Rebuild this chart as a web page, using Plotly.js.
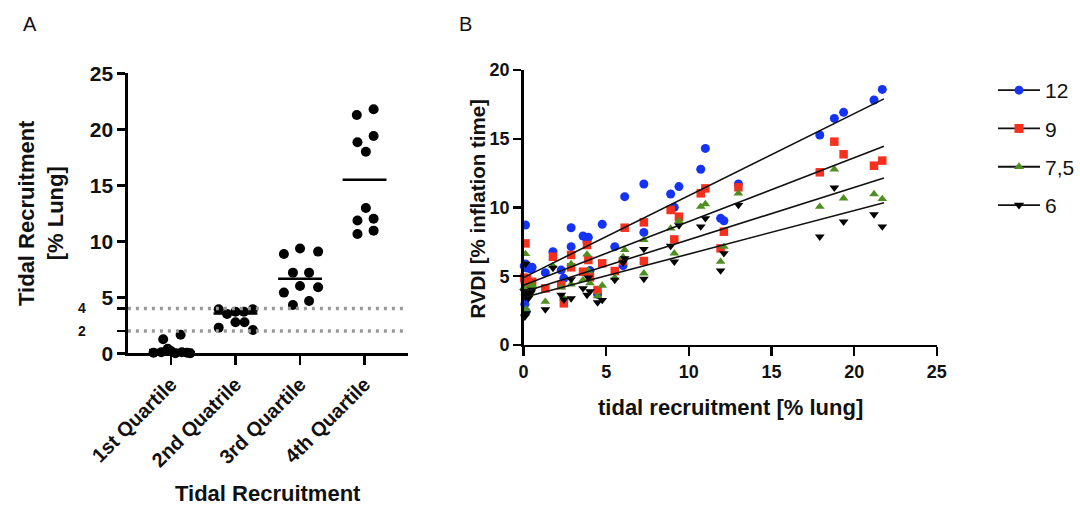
<!DOCTYPE html>
<html>
<head>
<meta charset="utf-8">
<script src="https://cdn.plot.ly/plotly-3.0.1.min.js"></script>
<style>html,body{margin:0;padding:0;background:#fff;}#chart{width:1080px;height:506px;}</style>
</head>
<body>
<div id="chart"></div>
<script>
// ---------- Panel A data ----------
const quartileLabels = ['1st Quartile', '2nd Quatrile', '3rd Quartile', '4th Quartile'];
const q1Values = [0.05, 0.1, 1.25, 0.4, 0.2, 0.0, 1.65, 0.1, 0.05, 0.0];
const q2Values = [3.93, 3.51, 3.72, 3.72, 3.93, 2.29, 2.77, 2.77, 2.08];
const q3Values = [8.87, 9.35, 9.08, 7.2, 7.2, 6.01, 5.89, 5.42, 4.32, 4.67];
const q4Values = [21.28, 21.79, 18.84, 19.4, 18.0, 12.98, 11.85, 12.02, 10.65, 10.95];
const quartileMeans = [0.3, 3.55, 6.65, 15.5];
const thresholdValues = [2, 4];

// horizontal scatter offsets of the dots within each category (layout only)
const q1Offsets = [-0.27, -0.15, -0.12, -0.05, 0.0, 0.07, 0.15, 0.17, 0.25, 0.3];
const q2Offsets = [-0.26, -0.13, 0.0, 0.13, 0.27, -0.26, 0.0, 0.14, 0.27];
const q3Offsets = [-0.25, 0.0, 0.28, -0.11, 0.14, 0.0, 0.28, -0.25, -0.11, 0.14];
const q4Offsets = [-0.12, 0.14, -0.11, 0.14, 0.02, 0.02, -0.11, 0.14, -0.11, 0.14];

// ---------- Panel B data ----------
const tidalRecruitment = [
  0.04, 0.08, 0.12, 0.12, 0.16, 0.2, 0.3, 0.32, 0.46, 0.52,
  1.32, 1.78, 2.28, 2.44, 2.88, 2.88, 3.6, 3.84, 3.92, 4.02,
  4.48, 4.76, 5.52, 6.02, 6.12, 7.28, 7.28, 8.9, 9.12, 9.4,
  10.72, 11.0, 11.92, 12.12, 13.0, 17.92, 18.8, 19.36, 21.2, 21.7
];
const rvdi12 = [
  5.75, 2.96, 8.73, 5.9, 2.42, 5.6, 5.7, 4.17, 5.5, 5.65,
  5.26, 6.79, 5.45, 4.85, 8.53, 7.15, 7.93, 7.52, 7.83, 5.41,
  3.68, 8.78, 7.15, 5.77, 10.79, 11.71, 8.19, 10.98, 10.01, 11.52,
  12.78, 14.3, 9.21, 9.04, 11.71, 15.27, 16.48, 16.92, 17.82, 18.59
];
const rvdi9 = [
  4.9, 4.73, 7.39, 4.0, 4.5, 4.8, 4.3, 4.1, 4.53, 4.6,
  4.12, 6.42, 4.36, 3.03, 6.55, 5.65, 5.33, 7.27, 6.18, 4.92,
  4.0, 5.94, 5.38, 6.11, 8.53, 8.92, 6.11, 9.82, 7.68, 9.33,
  11.03, 11.39, 7.03, 8.24, 11.47, 12.56, 14.79, 13.87, 13.04, 13.41
];
const rvdi75 = [
  4.2, 2.25, 6.62, 3.8, 2.6, 3.9, 3.76, 4.0, 4.3, 4.4,
  3.15, 5.75, 4.19, 3.4, 5.9, 4.41, 4.73, 6.59, 5.4, 4.5,
  3.56, 4.32, 4.9, 6.4, 6.91, 7.64, 5.21, 8.48, 6.67, 9.02,
  10.06, 10.25, 6.06, 7.15, 11.03, 10.06, 12.78, 10.67, 10.98, 10.62
];
const rvdi6 = [
  3.9, 2.06, 5.9, 3.5, 2.3, 3.6, 3.4, 3.7, 3.8, 4.0,
  2.59, 5.6, 3.64, 3.3, 4.78, 3.39, 4.12, 3.64, 4.9, 3.9,
  3.1, 3.27, 4.73, 6.0, 6.3, 6.98, 4.8, 7.2, 6.06, 8.7,
  8.61, 9.21, 5.41, 6.67, 10.18, 7.88, 11.44, 8.97, 9.5, 8.61
];
const seriesNames = ['12', '9', '7,5', '6'];
// regression lines (start and end values)
const fitX = [0, 21.8];
const fit12 = [4.9, 17.9];
const fit9 = [4.35, 14.45];
const fit75 = [3.85, 12.15];
const fit6 = [3.45, 10.35];

// ---------- styling ----------
const FONT = 'Liberation Sans, Arial, Helvetica, sans-serif';
const INK = '#111111';
const seriesColors = ['#1533f5', '#f5301e', '#4f8f22', '#000000'];
const seriesSymbols = ['circle', 'square', 'triangle-up', 'triangle-down'];

const traces = [];

// Panel A dots
const groups = [q1Values, q2Values, q3Values, q4Values];
const offsets = [q1Offsets, q2Offsets, q3Offsets, q4Offsets];
const ax = [], ay = [];
groups.forEach((vals, gi) => {
  vals.forEach((v, i) => { ax.push(gi + 1 + offsets[gi][i]); ay.push(v); });
});
traces.push({
  x: ax, y: ay, xaxis: 'x', yaxis: 'y', type: 'scatter', mode: 'markers',
  marker: {color: '#000', size: 10, line: {width: 0}}, cliponaxis: false,
  showlegend: false, hoverinfo: 'skip'
});
// threshold dotted lines
thresholdValues.forEach(t => {
  traces.push({
    x: [0.333, 4.667], y: [t, t], xaxis: 'x', yaxis: 'y', mode: 'lines',
    line: {color: '#9a9a9a', width: 3.5, dash: '3px,5px'},
    showlegend: false, hoverinfo: 'skip', cliponaxis: false
  });
});
// mean lines
const mx = [], my = [];
quartileMeans.forEach((m, i) => { mx.push(i + 1 - 0.34, i + 1 + 0.34, null); my.push(m, m, null); });
traces.push({
  x: mx, y: my, xaxis: 'x', yaxis: 'y', mode: 'lines',
  line: {color: '#000', width: 2.5}, showlegend: false, hoverinfo: 'skip', cliponaxis: false
});

// Panel B points
const bSeries = [rvdi12, rvdi9, rvdi75, rvdi6];
const fits = [fit12, fit9, fit75, fit6];
bSeries.forEach((ys, i) => {
  traces.push({
    x: tidalRecruitment, y: ys, xaxis: 'x2', yaxis: 'y2', mode: 'markers',
    marker: {color: seriesColors[i], symbol: seriesSymbols[i], size: i === 0 ? 9 : 8.5, line: {width: 0}},
    showlegend: false, cliponaxis: false, name: seriesNames[i]
  });
});
fits.forEach((f, i) => {
  traces.push({
    x: fitX, y: f, xaxis: 'x2', yaxis: 'y2', mode: 'lines',
    line: {color: '#111', width: 1.6}, showlegend: false, hoverinfo: 'skip'
  });
});
// legend entries
seriesNames.forEach((n, i) => {
  traces.push({
    x: [null], y: [null], xaxis: 'x2', yaxis: 'y2', mode: 'lines+markers', name: n,
    legendgroup: 'g' + i,
    line: {color: '#111', width: 1.8},
    marker: {color: seriesColors[i], symbol: seriesSymbols[i], size: 9},
    showlegend: true
  });
});

const axisCommon = {
  showgrid: false, zeroline: false, showline: true, linecolor: '#000',
  ticks: 'outside', tickcolor: '#000', fixedrange: true
};

const layout = {
  width: 1080, height: 506,
  margin: {l: 0, r: 0, t: 0, b: 0},
  paper_bgcolor: '#fff', plot_bgcolor: 'rgba(0,0,0,0)',
  font: {family: FONT, color: INK},
  showlegend: true,
  legend: {
    x: 0.92, y: 1 - 70 / 506, xanchor: 'left', yanchor: 'top',
    font: {family: FONT, size: 21, color: INK}, tracegroupgap: 8,
    itemwidth: 42, bgcolor: 'rgba(0,0,0,0)', borderwidth: 0
  },
  xaxis: Object.assign({}, axisCommon, {
    domain: [128 / 1080, 408 / 1080], range: [0.333, 4.667], anchor: 'y',
    tickvals: [1, 2, 3, 4], ticktext: quartileLabels, tickangle: -45,
    linewidth: 2.5, tickwidth: 2.5, ticklen: 9,
    tickfont: {family: FONT, size: 20, color: INK, weight: 'bold'}
  }),
  yaxis: Object.assign({}, axisCommon, {
    domain: [1 - 353.3 / 506, 1 - 73.3 / 506], range: [0, 25], anchor: 'x',
    tickvals: [0, 2, 4, 5, 10, 15, 20, 25], ticktext: ['0', '', '', '5', '10', '15', '20', '25'],
    linewidth: 2.5, tickwidth: 2.5, ticklen: 8,
    tickfont: {family: FONT, size: 21, color: INK, weight: 'bold'}
  }),
  xaxis2: Object.assign({}, axisCommon, {
    domain: [524 / 1080, 937.7 / 1080], range: [0, 25], anchor: 'y2', dtick: 5, tick0: 0,
    linewidth: 2.3, tickwidth: 2.3, ticklen: 9,
    tickfont: {family: FONT, size: 18, color: INK, weight: 'bold'}
  }),
  yaxis2: Object.assign({}, axisCommon, {
    domain: [1 - 345 / 506, 1 - 70 / 506], range: [0, 20], anchor: 'x2', dtick: 5, tick0: 0,
    linewidth: 2.3, tickwidth: 2.3, ticklen: 8,
    tickfont: {family: FONT, size: 18, color: INK, weight: 'bold'}
  }),
  annotations: [
    {text: 'A', xref: 'paper', yref: 'paper', x: 30 / 1080, y: 1 - 24 / 506, showarrow: false,
     xanchor: 'center', yanchor: 'middle', font: {family: FONT, size: 20, color: INK}},
    {text: 'B', xref: 'paper', yref: 'paper', x: 466 / 1080, y: 1 - 24 / 506, showarrow: false,
     xanchor: 'center', yanchor: 'middle', font: {family: FONT, size: 20, color: INK}},
    {text: '4', xref: 'paper', yref: 'y', x: 82 / 1080, y: 4, showarrow: false,
     xanchor: 'center', yanchor: 'middle', font: {family: FONT, size: 14, color: INK, weight: 'bold'}},
    {text: '2', xref: 'paper', yref: 'y', x: 82 / 1080, y: 2, showarrow: false,
     xanchor: 'center', yanchor: 'middle', font: {family: FONT, size: 14, color: INK, weight: 'bold'}},
    {text: 'Tidal Recruitment<br>[% Lung]', xref: 'paper', yref: 'paper', x: 41 / 1080, y: 1 - 213 / 506,
     textangle: -90, showarrow: false, xanchor: 'center', yanchor: 'middle',
     font: {family: FONT, size: 22, color: INK, weight: 'bold'}},
    {text: 'Tidal Recruitment', xref: 'paper', yref: 'paper', x: 268 / 1080, y: 1 - 493 / 506,
     showarrow: false, xanchor: 'center', yanchor: 'middle',
     font: {family: FONT, size: 22, color: INK, weight: 'bold'}},
    {text: 'RVDI [% inflation time]', xref: 'paper', yref: 'paper', x: 477 / 1080, y: 1 - 209 / 506,
     textangle: -90, showarrow: false, xanchor: 'center', yanchor: 'middle',
     font: {family: FONT, size: 20.5, color: INK, weight: 'bold'}},
    {text: 'tidal recruitment [% lung]', xref: 'paper', yref: 'paper', x: 731 / 1080, y: 1 - 407 / 506,
     showarrow: false, xanchor: 'center', yanchor: 'middle',
     font: {family: FONT, size: 22, color: INK, weight: 'bold'}}
  ]
};

Plotly.newPlot('chart', traces, layout, {staticPlot: true, displayModeBar: false});
</script>
</body>
</html>
